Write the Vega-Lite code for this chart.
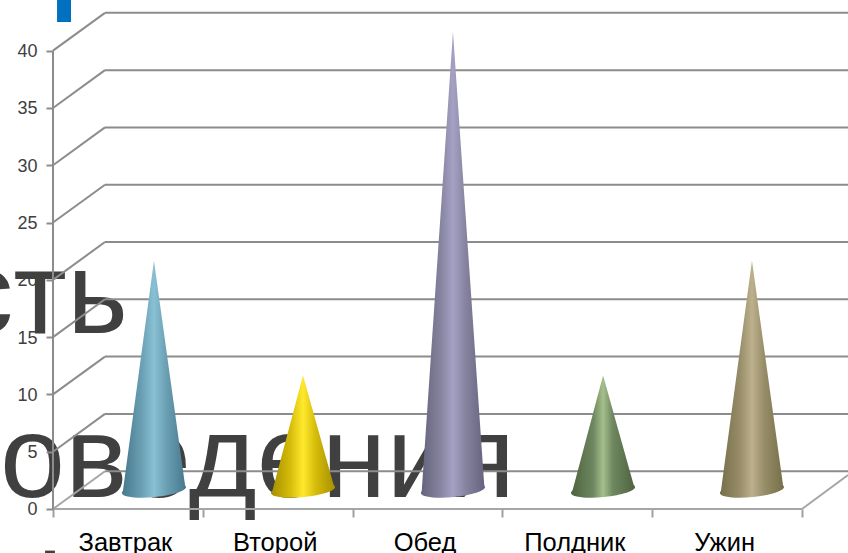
{
"$schema":"https://vega.github.io/schema/vega-lite/v6.json",
"width":848,"height":553,"padding":0,"autosize":"none","background":"white",
"config":{"view":{"stroke":null}},
"datasets":{
"grid":[{"v":0,"back":3.3},{"v":5,"back":8.3},{"v":10,"back":13.3},{"v":15,"back":18.3},{"v":20,"back":23.3},{"v":25,"back":28.3},{"v":30,"back":33.3},{"v":35,"back":38.3},{"v":40,"back":43.3}],
"cones":[
{"food":"Завтрак","x":0.464,"y":-0.35,"y2":-0.35},{"food":"Завтрак","x":0.674,"y":20,"y2":0},{"food":"Завтрак","x":0.884,"y":0.17,"y2":0.17},
{"food":"Второй","x":1.459,"y":-0.35,"y2":-0.35},{"food":"Второй","x":1.669,"y":10,"y2":0},{"food":"Второй","x":1.879,"y":0.17,"y2":0.17},
{"food":"Обед","x":2.46,"y":-0.35,"y2":-0.35},{"food":"Обед","x":2.67,"y":40,"y2":0},{"food":"Обед","x":2.88,"y":0.17,"y2":0.17},
{"food":"Полдник","x":3.462,"y":-0.35,"y2":-0.35},{"food":"Полдник","x":3.672,"y":10,"y2":0},{"food":"Полдник","x":3.882,"y":0.17,"y2":0.17},
{"food":"Ужин","x":4.456,"y":-0.35,"y2":-0.35},{"food":"Ужин","x":4.666,"y":20,"y2":0},{"food":"Ужин","x":4.876,"y":0.17,"y2":0.17}
],
"bases":[{"food":"Завтрак","x":0.674,"y":0},{"food":"Второй","x":1.669,"y":0},{"food":"Обед","x":2.67,"y":0},{"food":"Полдник","x":3.672,"y":0},{"food":"Ужин","x":4.666,"y":0}]
},
"layer":[
{"data":{"values":[{"t":"сть","x":0.5,"y":15.36},{"t":"оведения","x":3.085,"y":1.05}]},
 "mark":{"type":"text","align":"right","baseline":"alphabetic","font":"Liberation Sans","fontSize":117,"color":"#404040"},
 "encoding":{"text":{"field":"t"},
  "x":{"field":"x","type":"quantitative","scale":{"domain":[-0.3538,5.307],"nice":false,"zero":false},"axis":null},
  "y":{"field":"y","type":"quantitative","scale":{"domain":[-3.84,44.42],"nice":false,"zero":false},"axis":null}}},
{"data":{"values":[{"x":0.027,"x2":0.12,"y":42.5,"y2":44.42},{"x":-0.053,"x2":0.013,"y":-3.84,"y2":-3.63}]},
 "mark":{"type":"rect"},
 "encoding":{"x":{"field":"x","type":"quantitative","axis":null},"x2":{"field":"x2"},"y":{"field":"y","type":"quantitative","axis":null},"y2":{"field":"y2"},
  "color":{"condition":{"test":"datum.y>0","value":"#0070c0"},"value":"#404040"}}},
{"data":{"name":"grid"},"transform":[{"filter":"datum.v>0"}],
 "mark":{"type":"rule","color":"#8c8c8c","strokeWidth":2},
 "encoding":{"x":{"datum":0,"type":"quantitative","axis":null},"x2":{"datum":0.347},"y":{"field":"v","type":"quantitative","axis":null},"y2":{"field":"back"}}},
{"data":{"name":"grid"},"transform":[{"filter":"datum.v==0"}],
 "mark":{"type":"rule","color":"#a6a6a6","strokeWidth":2},
 "encoding":{"x":{"datum":0,"type":"quantitative","axis":null},"x2":{"datum":0.347},"y":{"field":"v","type":"quantitative","axis":null},"y2":{"field":"back"}}},
{"data":{"name":"grid"},
 "mark":{"type":"rule","color":"#8c8c8c","strokeWidth":2},
 "encoding":{"x":{"datum":0.347,"type":"quantitative","axis":{"orient":"bottom","offset":-44,"values":[0.5,1.5,2.5,3.5,4.5],"ticks":false,"domain":false,"grid":false,"title":null,"labelPadding":41,"labelOffset":-3,"labelFont":"Liberation Sans","labelFontSize":25.5,"labelColor":"#000000","labelBaseline":"alphabetic","labelOverlap":false,"labelFlush":false,"labelExpr":"['Завтрак','Второй','Обед','Полдник','Ужин'][floor(datum.value)]","zindex":1}},"x2":{"datum":5.307},"y":{"field":"back","type":"quantitative","axis":null}}},
{"data":{"values":[{"x":5,"x2":5.307,"y":0,"y2":2.97}]},
 "mark":{"type":"rule","color":"#a6a6a6","strokeWidth":2},
 "encoding":{"x":{"field":"x","type":"quantitative","axis":null},"x2":{"field":"x2"},"y":{"field":"y","type":"quantitative","axis":null},"y2":{"field":"y2"}}},
{"data":{"values":[{"x":0,"x2":5,"y":0}]},
 "mark":{"type":"rule","color":"#a6a6a6","strokeWidth":2},
 "encoding":{"x":{"field":"x","type":"quantitative","axis":{"orient":"bottom","offset":-44,"values":[0,1,2,3,4,5],"labels":false,"domain":false,"grid":false,"title":null,"tickSize":8,"tickWidth":2,"tickColor":"#a0a0a0","zindex":1}},"x2":{"field":"x2"},"y":{"field":"y","type":"quantitative","axis":null}}},
{"data":{"values":[{"x":0,"y":0,"y2":40}]},
 "mark":{"type":"rule","color":"#8c8c8c","strokeWidth":2},
 "encoding":{"x":{"field":"x","type":"quantitative","axis":null},"y":{"field":"y","type":"quantitative","axis":{"orient":"left","offset":-53,"values":[0,5,10,15,20,25,30,35,40],"domain":false,"grid":false,"title":null,"tickSize":7,"tickWidth":2,"tickColor":"#8c8c8c","labelFont":"Liberation Sans","labelFontSize":18,"labelColor":"#404040","labelPadding":9,"labelOffset":1,"zindex":1}},"y2":{"field":"y2"}}},
{"data":{"name":"cones"},"transform":[{"filter":"datum.food=='Завтрак'"}],
 "mark":{"type":"area","yOffset":-19,"y2Offset":-19,"fill":{"gradient":"linear","x1":0,"x2":1,"y1":0,"y2":0,"stops":[{"offset":0,"color":"#47788c"},{"offset":0.3,"color":"#6a9fb3"},{"offset":0.5,"color":"#8ac0d3"},{"offset":0.7,"color":"#6a9fb3"},{"offset":1,"color":"#47788c"}]}},
 "encoding":{"x":{"field":"x","type":"quantitative","axis":null},"y":{"field":"y","type":"quantitative","axis":null},"y2":{"field":"y2"}}},
{"data":{"name":"bases"},"transform":[{"filter":"datum.food=='Завтрак'"}],
 "mark":{"type":"point","filled":true,"opacity":1,"size":4096,"yOffset":-19,"shape":"M-1,0.1A1,0.22 -5.5 1,0 1,-0.1A1,0.22 -5.5 1,0 -1,0.1Z","fill":{"gradient":"linear","x1":0,"x2":1,"y1":0,"y2":0,"stops":[{"offset":0,"color":"#47788c"},{"offset":0.3,"color":"#6a9fb3"},{"offset":0.5,"color":"#8ac0d3"},{"offset":0.7,"color":"#6a9fb3"},{"offset":1,"color":"#47788c"}]}},
 "encoding":{"x":{"field":"x","type":"quantitative","axis":null},"y":{"field":"y","type":"quantitative","axis":null}}},
{"data":{"name":"cones"},"transform":[{"filter":"datum.food=='Второй'"}],
 "mark":{"type":"area","yOffset":-19,"y2Offset":-19,"fill":{"gradient":"linear","x1":0,"x2":1,"y1":0,"y2":0,"stops":[{"offset":0,"color":"#a68f00"},{"offset":0.3,"color":"#d6bc0a"},{"offset":0.5,"color":"#ffe92e"},{"offset":0.7,"color":"#d6bc0a"},{"offset":1,"color":"#a68f00"}]}},
 "encoding":{"x":{"field":"x","type":"quantitative","axis":null},"y":{"field":"y","type":"quantitative","axis":null},"y2":{"field":"y2"}}},
{"data":{"name":"bases"},"transform":[{"filter":"datum.food=='Второй'"}],
 "mark":{"type":"point","filled":true,"opacity":1,"size":4096,"yOffset":-19,"shape":"M-1,0.1A1,0.22 -5.5 1,0 1,-0.1A1,0.22 -5.5 1,0 -1,0.1Z","fill":{"gradient":"linear","x1":0,"x2":1,"y1":0,"y2":0,"stops":[{"offset":0,"color":"#a68f00"},{"offset":0.3,"color":"#d6bc0a"},{"offset":0.5,"color":"#ffe92e"},{"offset":0.7,"color":"#d6bc0a"},{"offset":1,"color":"#a68f00"}]}},
 "encoding":{"x":{"field":"x","type":"quantitative","axis":null},"y":{"field":"y","type":"quantitative","axis":null}}},
{"data":{"name":"cones"},"transform":[{"filter":"datum.food=='Обед'"}],
 "mark":{"type":"area","yOffset":-19,"y2Offset":-19,"fill":{"gradient":"linear","x1":0,"x2":1,"y1":0,"y2":0,"stops":[{"offset":0,"color":"#66637f"},{"offset":0.3,"color":"#86839f"},{"offset":0.5,"color":"#a5a1c4"},{"offset":0.7,"color":"#86839f"},{"offset":1,"color":"#66637f"}]}},
 "encoding":{"x":{"field":"x","type":"quantitative","axis":null},"y":{"field":"y","type":"quantitative","axis":null},"y2":{"field":"y2"}}},
{"data":{"name":"bases"},"transform":[{"filter":"datum.food=='Обед'"}],
 "mark":{"type":"point","filled":true,"opacity":1,"size":4096,"yOffset":-19,"shape":"M-1,0.1A1,0.22 -5.5 1,0 1,-0.1A1,0.22 -5.5 1,0 -1,0.1Z","fill":{"gradient":"linear","x1":0,"x2":1,"y1":0,"y2":0,"stops":[{"offset":0,"color":"#66637f"},{"offset":0.3,"color":"#86839f"},{"offset":0.5,"color":"#a5a1c4"},{"offset":0.7,"color":"#86839f"},{"offset":1,"color":"#66637f"}]}},
 "encoding":{"x":{"field":"x","type":"quantitative","axis":null},"y":{"field":"y","type":"quantitative","axis":null}}},
{"data":{"name":"cones"},"transform":[{"filter":"datum.food=='Полдник'"}],
 "mark":{"type":"area","yOffset":-19,"y2Offset":-19,"fill":{"gradient":"linear","x1":0,"x2":1,"y1":0,"y2":0,"stops":[{"offset":0,"color":"#4e6340"},{"offset":0.35,"color":"#6f8860"},{"offset":0.5,"color":"#a6bf8c"},{"offset":0.65,"color":"#6f8860"},{"offset":1,"color":"#4e6340"}]}},
 "encoding":{"x":{"field":"x","type":"quantitative","axis":null},"y":{"field":"y","type":"quantitative","axis":null},"y2":{"field":"y2"}}},
{"data":{"name":"bases"},"transform":[{"filter":"datum.food=='Полдник'"}],
 "mark":{"type":"point","filled":true,"opacity":1,"size":4096,"yOffset":-19,"shape":"M-1,0.1A1,0.22 -5.5 1,0 1,-0.1A1,0.22 -5.5 1,0 -1,0.1Z","fill":{"gradient":"linear","x1":0,"x2":1,"y1":0,"y2":0,"stops":[{"offset":0,"color":"#4e6340"},{"offset":0.35,"color":"#6f8860"},{"offset":0.5,"color":"#a6bf8c"},{"offset":0.65,"color":"#6f8860"},{"offset":1,"color":"#4e6340"}]}},
 "encoding":{"x":{"field":"x","type":"quantitative","axis":null},"y":{"field":"y","type":"quantitative","axis":null}}},
{"data":{"name":"cones"},"transform":[{"filter":"datum.food=='Ужин'"}],
 "mark":{"type":"area","yOffset":-19,"y2Offset":-19,"fill":{"gradient":"linear","x1":0,"x2":1,"y1":0,"y2":0,"stops":[{"offset":0,"color":"#776e4a"},{"offset":0.3,"color":"#968c68"},{"offset":0.5,"color":"#bdb08c"},{"offset":0.7,"color":"#968c68"},{"offset":1,"color":"#776e4a"}]}},
 "encoding":{"x":{"field":"x","type":"quantitative","axis":null},"y":{"field":"y","type":"quantitative","axis":null},"y2":{"field":"y2"}}},
{"data":{"name":"bases"},"transform":[{"filter":"datum.food=='Ужин'"}],
 "mark":{"type":"point","filled":true,"opacity":1,"size":4096,"yOffset":-19,"shape":"M-1,0.1A1,0.22 -5.5 1,0 1,-0.1A1,0.22 -5.5 1,0 -1,0.1Z","fill":{"gradient":"linear","x1":0,"x2":1,"y1":0,"y2":0,"stops":[{"offset":0,"color":"#776e4a"},{"offset":0.3,"color":"#968c68"},{"offset":0.5,"color":"#bdb08c"},{"offset":0.7,"color":"#968c68"},{"offset":1,"color":"#776e4a"}]}},
 "encoding":{"x":{"field":"x","type":"quantitative","axis":null},"y":{"field":"y","type":"quantitative","axis":null}}}
],
"resolve":{"axis":{"x":"independent","y":"independent"}}
}
